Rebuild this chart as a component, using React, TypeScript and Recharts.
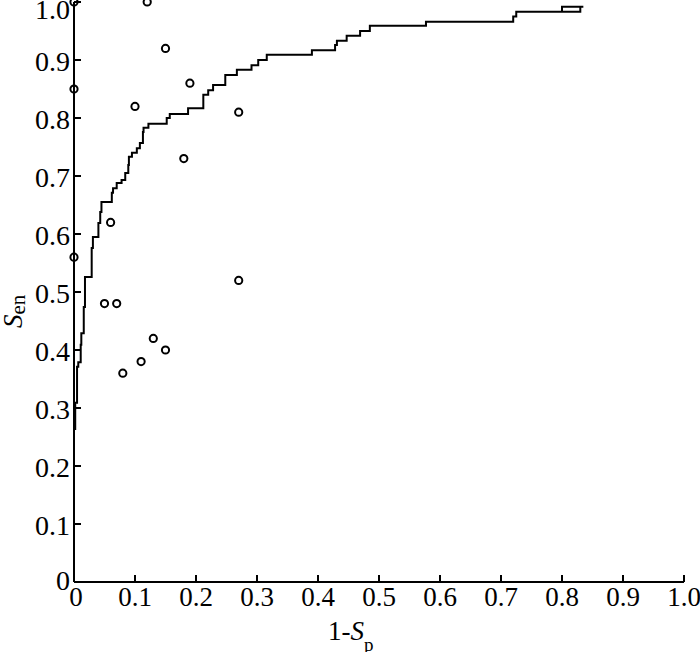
import React from 'react';
import { ComposedChart, Scatter, XAxis, YAxis } from 'recharts';

// ROC step curve (1-Sp, Sen) vertices, in drawing order
const rocFpr = [
  0.002, 0.002, 0.005, 0.005, 0.007, 0.007, 0.011, 0.011, 0.012, 0.012,
  0.016, 0.016, 0.018, 0.018, 0.029, 0.029, 0.031, 0.031, 0.040, 0.040,
  0.043, 0.043, 0.045, 0.045, 0.062, 0.062, 0.064, 0.064, 0.070, 0.070,
  0.078, 0.078, 0.084, 0.084, 0.089, 0.089, 0.090, 0.090, 0.095, 0.095,
  0.103, 0.103, 0.108, 0.108, 0.113, 0.113, 0.114, 0.114, 0.122, 0.122,
  0.152, 0.152, 0.157, 0.157, 0.187, 0.187, 0.212, 0.212, 0.220, 0.220,
  0.228, 0.228, 0.248, 0.248, 0.267, 0.267, 0.291, 0.291, 0.302, 0.302,
  0.316, 0.316, 0.390, 0.390, 0.428, 0.428, 0.431, 0.431, 0.447, 0.447,
  0.469, 0.469, 0.485, 0.485, 0.577, 0.577, 0.720, 0.720, 0.725, 0.725,
  0.800, 0.800, 0.835, 0.830, 0.830, 0.800,
];
const rocSen = [
  0.262, 0.309, 0.309, 0.371, 0.371, 0.379, 0.379, 0.409, 0.409, 0.429,
  0.429, 0.474, 0.474, 0.526, 0.526, 0.576, 0.576, 0.595, 0.595, 0.619,
  0.619, 0.638, 0.638, 0.655, 0.655, 0.671, 0.671, 0.679, 0.679, 0.688,
  0.688, 0.693, 0.693, 0.705, 0.705, 0.719, 0.719, 0.733, 0.733, 0.740,
  0.740, 0.748, 0.748, 0.757, 0.757, 0.776, 0.776, 0.783, 0.783, 0.790,
  0.790, 0.800, 0.800, 0.807, 0.807, 0.817, 0.817, 0.840, 0.840, 0.848,
  0.848, 0.857, 0.857, 0.874, 0.874, 0.883, 0.883, 0.891, 0.891, 0.900,
  0.900, 0.909, 0.909, 0.917, 0.917, 0.926, 0.926, 0.933, 0.933, 0.942,
  0.942, 0.950, 0.950, 0.959, 0.959, 0.966, 0.966, 0.975, 0.975, 0.983,
  0.983, 0.992, 0.992, 0.992, 0.983, 0.983,
];

// Individual operating points (hollow circles)
const ptFpr = [0, 0.12, 0.15, 0, 0.19, 0.10, 0.27, 0.18, 0.06, 0, 0.27, 0.05, 0.07, 0.13, 0.15, 0.11, 0.08];
const ptSen = [1.0, 1.0, 0.92, 0.85, 0.86, 0.82, 0.81, 0.73, 0.62, 0.56, 0.52, 0.48, 0.48, 0.42, 0.40, 0.38, 0.36];

const xTicks = [0, 0.1, 0.2, 0.3, 0.4, 0.5, 0.6, 0.7, 0.8, 0.9, 1.0];
const xTickLabels = ['0', '0.1', '0.2', '0.3', '0.4', '0.5', '0.6', '0.7', '0.8', '0.9', '1.0'];
const yTicks = [0, 0.1, 0.2, 0.3, 0.4, 0.5, 0.6, 0.7, 0.8, 0.9, 1.0];
const yTickLabels = ['0', '0.1', '0.2', '0.3', '0.4', '0.5', '0.6', '0.7', '0.8', '0.9', '1.0'];

const rocData = rocFpr.map((x, i) => ({ x, y: rocSen[i] }));
const ptData = ptFpr.map((x, i) => ({ x, y: ptSen[i] }));

const FONT = '"Liberation Serif", "Times New Roman", serif';
const FS = 27;

const findIdx = (arr: number[], v: number) => arr.findIndex((t) => Math.abs(t - v) < 1e-9);

const XTick = (props: any) => {
  const { x, y, payload } = props;
  const i = findIdx(xTicks, payload.value);
  return (
    <g>
      <line x1={x} y1={y} x2={x} y2={y - 7} stroke="#000" strokeWidth={2} />
      <text x={payload.value === 0 ? x + 2 : x} y={y + 24} textAnchor="middle" fontFamily={FONT} fontSize={FS} fill="#000">
        {xTickLabels[i]}
      </text>
    </g>
  );
};

const YTick = (props: any) => {
  const { x, y, payload } = props;
  const i = findIdx(yTicks, payload.value);
  const shift = payload.value === 1 ? 7 : payload.value === 0 ? -2 : 1;
  return (
    <g>
      {payload.value !== 0 && <line x1={x} y1={y} x2={x + 7} y2={y} stroke="#000" strokeWidth={2} />}
      <text x={x - 4} y={y + shift} dy="0.35em" textAnchor="end" fontFamily={FONT} fontSize={28} fill="#000">
        {yTickLabels[i]}
      </text>
    </g>
  );
};

const XTitle = () => (
  <text x={328} y={640} fontFamily={FONT} fontSize={FS} fill="#000">
    1-<tspan fontStyle="italic">S</tspan>
    <tspan fontSize={19} dy={11}>p</tspan>
  </text>
);

const YTitle = () => (
  <text x={22} y={328} transform="rotate(-90 22 328)" fontFamily={FONT} fontSize={FS} fill="#000">
    <tspan fontStyle="italic">S</tspan>
    <tspan fontSize={21} dy={3}>en</tspan>
  </text>
);

const Circle = (props: any) => (
  <circle cx={props.cx} cy={props.cy} r={3.6} fill="none" stroke="#000" strokeWidth={2} />
);

const NoShape = () => <g />;

export default function App() {
  return (
    <div style={{ position: 'absolute', left: 0, top: 0, width: 700, height: 652, background: '#fff' }}>
      <ComposedChart width={700} height={652} margin={{ top: 2, right: 16, bottom: 0, left: 0 }}>
        <XAxis
          type="number"
          dataKey="x"
          domain={[0, 1]}
          ticks={xTicks}
          height={70}
          tickSize={0}
          tickMargin={0}
          tickLine={false}
          axisLine={{ stroke: '#000', strokeWidth: 2 }}
          tick={<XTick />}
          interval={0}
          label={<XTitle />}
        />
        <YAxis
          type="number"
          dataKey="y"
          domain={[0, 1]}
          ticks={yTicks}
          width={74}
          tickSize={0}
          tickMargin={0}
          tickLine={false}
          axisLine={{ stroke: '#000', strokeWidth: 2 }}
          tick={<YTick />}
          interval={0}
          label={<YTitle />}
        />
        <Scatter
          data={rocData}
          line={{ stroke: '#000', strokeWidth: 2 }}
          shape={<NoShape />}
          isAnimationActive={false}
        />
        <Scatter data={ptData} shape={<Circle />} isAnimationActive={false} />
      </ComposedChart>
    </div>
  );
}
